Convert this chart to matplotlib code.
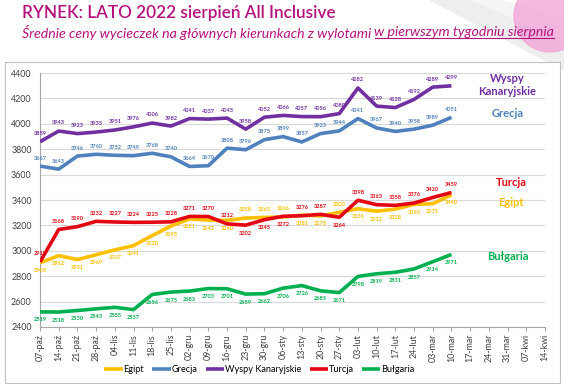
import numpy as np
import matplotlib.pyplot as plt
from matplotlib.patches import Rectangle, Circle

# --- dane ---
weeks = ["07-paź", "14-paź", "21-paź", "28-paź", "04-lis", "11-lis", "18-lis", "25-lis",
         "02-gru", "09-gru", "16-gru", "23-gru", "30-gru", "06-sty", "13-sty", "20-sty",
         "27-sty", "03-lut", "10-lut", "17-lut", "24-lut", "03-mar", "10-mar", "17-mar",
         "24-mar", "31-mar", "07-kwi", "14-kwi"]

egipt = [2905, 2962, 2931, 2969, 3007, 3041, 3120, 3195, 3251, 3242, 3240, 3258, 3263,
         3266, 3281, 3275, 3303, 3331, 3312, 3328, 3365, 3371, 3440]
grecja = [3667, 3643, 3746, 3760, 3752, 3749, 3768, 3740, 3664, 3670, 3808, 3796, 3875,
          3899, 3857, 3923, 3944, 4041, 3967, 3940, 3958, 3989, 4051]
wyspy = [3859, 3943, 3923, 3935, 3951, 3976, 4006, 3982, 4041, 4037, 4045, 3958, 4052,
         4066, 4057, 4056, 4080, 4282, 4139, 4128, 4192, 4289, 4299]
turcja = [2912, 3168, 3190, 3232, 3227, 3224, 3225, 3228, 3271, 3270, 3212, 3202, 3245,
          3272, 3276, 3287, 3264, 3398, 3363, 3358, 3376, 3420, 3459]
bulgaria = [2519, 2518, 2530, 2543, 2555, 2537, 2656, 2675, 2683, 2703, 2701, 2659, 2662,
            2706, 2726, 2685, 2671, 2798, 2819, 2831, 2857, 2914, 2971]

# polozenie etykiet: 'a' nad linia, 'b' pod linia
turcja_pos = "aaaaaaaaaaabbbaabaaaaaa"
egipt_pos = "bbbbbbbbbbbaaabbabbbbbb"

series = [
    ("Egipt", egipt, "#FFC000", egipt_pos),
    ("Grecja", grecja, "#4F81BD", "a" * 23),
    ("Wyspy Kanaryjskie", wyspy, "#7030A0", "a" * 23),
    ("Turcja", turcja, "#E30613", turcja_pos),
    ("Bułgaria", bulgaria, "#00B050", "b" * 23),
]

magenta = "#B5137C"
plt.rcParams['font.family'] = ['Lato', 'DejaVu Sans']

fig = plt.figure(figsize=(5.64, 3.88), dpi=100)

# tlo: szare smugi i rozowy globus w rogu
bg = fig.add_axes([0, 0, 1, 1], zorder=-10)
bg.set_xlim(0, 564); bg.set_ylim(388, 0); bg.axis("off")
bg.fill([430, 470, 564, 564], [0, 0, 40, 70], color="#EEEEEE", zorder=0)
bg.fill([470, 500, 564, 564], [0, 0, 20, 35], color="#F5F5F5", zorder=0)
bg.add_patch(Circle((550, 16), 36, color="#F3A6D9", alpha=0.8, zorder=1))
bg.add_patch(Rectangle((5, 62), 555, 321, facecolor="white", edgecolor="#BFBFBF", lw=0.8, zorder=2))

# tytul
fig.text(22 / 564, 1 - 13 / 388, "RYNEK: LATO 2022 sierpień All Inclusive",
         color=magenta, fontsize=12.3, fontweight="semibold", va="center", ha="left")
t1 = fig.text(22 / 564, 1 - 32 / 388, "Średnie ceny wycieczek na głównych kierunkach z wylotami ",
              color=magenta, fontsize=10.2, style="italic", va="center", ha="left")
fig.canvas.draw()
r = fig.canvas.get_renderer()
bb = t1.get_window_extent(r)
x2 = bb.x1 / fig.bbox.width
t2 = fig.text(x2, 1 - 32 / 388, "w pierwszym tygodniu sierpnia",
              color=magenta, fontsize=10.2, style="italic", va="center", ha="left")
bb2 = t2.get_window_extent(r)
yu = (bb2.y0 + 0.5) / fig.bbox.height
fig.add_artist(plt.Line2D([x2, bb2.x1 / fig.bbox.width], [yu, yu], color=magenta, lw=0.8))

# wykres
ax = fig.add_axes([40 / 564, 1 - 327 / 388, 505 / 564, 254 / 388])
x = np.arange(len(egipt))
for name, vals, col, pos in series:
    ax.plot(x, vals, color=col, lw=2.6, label=name, solid_capstyle="butt", zorder=3)
    for xi, v, p in zip(x, vals, pos):
        dy = 4 if p == "a" else -4
        ax.annotate(str(v), (xi, v), xytext=(0, dy), textcoords="offset points",
                    ha="center", va="bottom" if p == "a" else "top",
                    fontsize=4.1, color=col, fontweight="bold", zorder=4)

ax.set_xlim(0, len(weeks) - 1)
ax.set_ylim(2400, 4400)
ax.set_yticks(np.arange(2400, 4401, 200))
ax.set_xticks(np.arange(len(weeks)))
ax.set_xticklabels(weeks, rotation=90, fontsize=6.4, color="#404040")
ax.tick_params(axis="y", labelsize=6.4, colors="#404040", length=0, pad=6)
ax.tick_params(axis="x", length=3, color="#A6A6A6", pad=2)
ax.grid(axis="y", color="#D9D9D9", lw=0.8)
ax.set_axisbelow(True)
for s in ["top", "right"]:
    ax.spines[s].set_visible(False)
ax.spines["left"].set_color("#A6A6A6")
ax.spines["bottom"].set_color("#A6A6A6")

# nazwy kierunkow po prawej
ax.text(25.0, 4305, "Wyspy\nKanaryjskie", color="#7030A0", fontsize=8, fontweight="bold",
        ha="center", va="center", linespacing=1.2)
ax.text(25.0, 4085, "Grecja", color="#4F81BD", fontsize=8, fontweight="bold", ha="center", va="center")
ax.text(25.2, 3534, "Turcja", color="#E30613", fontsize=8, fontweight="bold", ha="center", va="center")
ax.text(25.2, 3384, "Egipt", color="#FFC000", fontsize=8, fontweight="bold", ha="center", va="center")
ax.text(25.0, 2959, "Bułgaria", color="#00B050", fontsize=8, fontweight="bold", ha="center", va="center")

leg = fig.legend(loc="center", bbox_to_anchor=(0.46, 1 - 370 / 388), ncol=5, frameon=False,
                 fontsize=6.6, handlelength=2.0, handletextpad=0.1, columnspacing=0.9)
for h in leg.get_lines():
    h.set_linewidth(2.6)

fig.savefig("out.png", dpi=100)
